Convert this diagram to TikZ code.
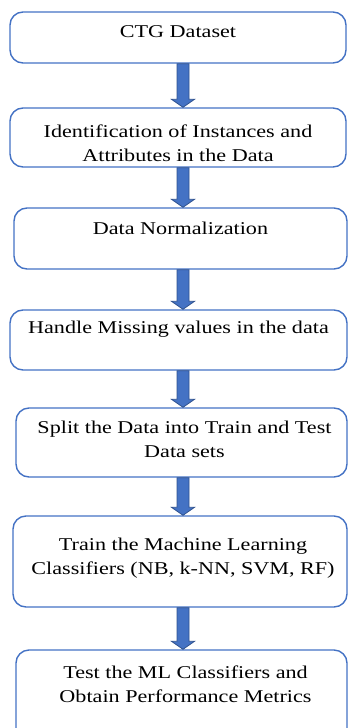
\documentclass[tikz,border=0pt]{standalone}
\usepackage{fontspec}
\setmainfont{Liberation Serif}[FakeStretch=1.23]
\usetikzlibrary{calc,fit}
\definecolor{boxline}{HTML}{4472C4}
\definecolor{arrfill}{HTML}{4472C4}
\definecolor{arrline}{HTML}{2F528F}
\tikzset{
  stage/.style={draw=boxline, line width=1.4pt, rounded corners=13pt, inner sep=0pt},
  caption/.style={font=\fontsize{18}{23.5}\selectfont, align=center, anchor=base, inner sep=0pt},
  blockarrow/.style={fill=arrfill, draw=arrline, line width=0.8pt, line join=miter}
}
% block arrow between two named stages, on the vertical axis through (ax)
\newcommand\stagearrow[2]{%
  \draw[blockarrow] let \p1=(#1.south -| ax), \p2=(#2.north -| ax) in
    (\x1-6pt,\y1) -- (\x1-6pt,\y2+8pt) -- (\x1-11.5pt,\y2+8pt) -- (\x2,\y2)
    -- (\x1+11.5pt,\y2+8pt) -- (\x1+6pt,\y2+8pt) -- (\x1+6pt,\y1) -- cycle;}
\begin{document}
\begin{tikzpicture}[x=1pt,y=-1pt]
\useasboundingbox (0,0) rectangle (348,728);
\clip (0,0) rectangle (348,728);
\coordinate (ax) at (183,0);

% stages
\node[stage, fit={(10,12) (346,63)}]   (s1) {};
\node[stage, fit={(10,108) (346,167)}] (s2) {};
\node[stage, fit={(14,208) (347,269)}] (s3) {};
\node[stage, fit={(10,310) (347,370)}] (s4) {};
\node[stage, fit={(16,408) (347,477)}] (s5) {};
\node[stage, fit={(13,516) (347,607)}] (s6) {};
\node[stage, fit={(16,650) (347,748)}] (s7) {};

% texts (anchored at the baseline of their last line)
\node[caption] (t1) at ($(s1.north)+(0,25.7)$) {CTG Dataset};
\node[caption] (t2) at ($(s2.north)+(0,54)$) {Identification of Instances and\\Attributes in the Data};
\node[caption] (t3) at ($(s3.north)+(0,27)$) {Data Normalization};
\node[caption] (t4) at ($(s4.north)+(0,24)$) {Handle Missing values in the data};
\node[caption] (t5) at ($(s5.north)+(3,50)$) {Split the Data into Train and Test\\Data sets};
\node[caption] (t6) at ($(s6.north)+(3,59)$) {Train the Machine Learning\\Classifiers (NB, k-NN, SVM, RF)};
\node[caption] (t7) at ($(s7.north)+(4,53)$) {Test the ML Classifiers and\\Obtain Performance Metrics};

% connectors
\stagearrow{s1}{s2}
\stagearrow{s2}{s3}
\stagearrow{s3}{s4}
\stagearrow{s4}{s5}
\stagearrow{s5}{s6}
\stagearrow{s6}{s7}
\end{tikzpicture}
\end{document}
